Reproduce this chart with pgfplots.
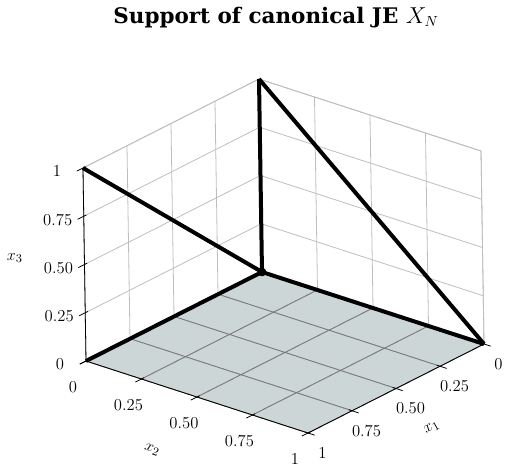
\documentclass[border=0pt]{standalone}
\usepackage[no-math]{fontspec}
\newfontfamily\titlefont{DejaVu Serif}
\usepackage{pgfplots}
\pgfplotsset{compat=1.18}
\definecolor{floorc}{HTML}{CDD6D6}
\definecolor{fgrid}{HTML}{7A7A7A}
\definecolor{wgrid}{HTML}{BEBEBE}
\begin{document}
\begin{tikzpicture}
\useasboundingbox (-196.5pt,-151.5pt) rectangle (182.25pt,204pt);
\begin{axis}[
  at={(0,0)}, anchor=origin,
  x={(-132pt,-66.75pt)}, y={(166.5pt,-54pt)}, z={(-2.25pt,144.75pt)},
  xmin=0,xmax=1,ymin=0,ymax=1,zmin=0,zmax=1,
  xtick={0,0.25,0.5,0.75,1}, xticklabels={0,0.25,0.50,0.75,1},
  ytick={0,0.25,0.5,0.75,1}, yticklabels={0,0.25,0.50,0.75,1},
  ztick={0,0.25,0.5,0.75,1}, zticklabels={0,0.25,0.50,0.75,1},
  tick pos=left,
  grid=major, grid style={wgrid, line width=0.6pt},
  axis line style={wgrid, line width=0.6pt},
  tick style={draw=none},
  major tick length=0pt,
  ticklabel style={font=\fontsize{12.5}{14}\selectfont},
  xticklabel style={anchor=center, xshift=10.9pt, yshift=-15pt},
  yticklabel style={anchor=center, xshift=-9.75pt, yshift=-19.5pt},
  zticklabel style={anchor=center, xshift=-19.5pt, yshift=-2.5pt},
  every axis x label/.style={at={(axis cs:0.691,1.313,0)}, anchor=center, rotate=30, font=\fontsize{12.5}{14}\selectfont},
  every axis y label/.style={at={(axis cs:1.463,0.664,0)}, anchor=center, rotate=-20, font=\fontsize{12.5}{14}\selectfont},
  every axis z label/.style={at={(axis cs:1.392,0,0.714)}, anchor=center, font=\fontsize{12.5}{14}\selectfont},
  xlabel={$x_1$}, ylabel={$x_2$}, zlabel={$x_3$},
  title={\titlefont\bfseries Support of canonical JE $X_N$},
  title style={font=\fontsize{16.1}{19}\selectfont, yshift=29pt, xshift=-5.6pt},
  clip=false,
]
\addplot3[surf, shader=faceted, colormap={fl}{color(0)=(floorc) color(1)=(floorc)},
  point meta=0, point meta min=0, point meta max=1, faceted color=fgrid, line width=0.6pt]
coordinates {
(0,0,0) (0,0.25,0) (0,0.5,0) (0,0.75,0) (0,1,0)

(0.25,0,0) (0.25,0.25,0) (0.25,0.5,0) (0.25,0.75,0) (0.25,1,0)

(0.5,0,0) (0.5,0.25,0) (0.5,0.5,0) (0.5,0.75,0) (0.5,1,0)

(0.75,0,0) (0.75,0.25,0) (0.75,0.5,0) (0.75,0.75,0) (0.75,1,0)

(1,0,0) (1,0.25,0) (1,0.5,0) (1,0.75,0) (1,1,0)
};
% black axis lines
\addplot3[black, line width=0.6pt] coordinates {(1,0,0) (1,0,1)};
\addplot3[black, line width=0.6pt] coordinates {(1,0,0) (1,1,0)};
\addplot3[black, line width=0.6pt] coordinates {(0,1,0) (1,1,0)};
% tick marks
\addplot3[black, line width=0.6pt, empty line=jump] coordinates {
(0.985,0,0) (1.035,0,0)

(0.985,0,0.25) (1.035,0,0.25)

(0.985,0,0.5) (1.035,0,0.5)

(0.985,0,0.75) (1.035,0,0.75)

(0.985,0,1) (1.035,0,1)
};
\addplot3[black, line width=0.6pt, empty line=jump] coordinates {
(0.985,0,0) (1.035,0,0)

(0.985,0.25,0) (1.035,0.25,0)

(0.985,0.5,0) (1.035,0.5,0)

(0.985,0.75,0) (1.035,0.75,0)

(0.985,1,0) (1.035,1,0)
};
\addplot3[black, line width=0.6pt, empty line=jump] coordinates {
(0,0.985,0) (0,1.03,0)

(0.25,0.985,0) (0.25,1.03,0)

(0.5,0.985,0) (0.5,1.03,0)

(0.75,0.985,0) (0.75,1.03,0)

(1,0.985,0) (1,1.03,0)
};
% support
\addplot3[black, line width=3pt] coordinates {(1,0,1) (0,0,0)};
\addplot3[black, line width=3pt] coordinates {(0,0,1) (0,1,0)};
\addplot3[black, line width=3pt] coordinates {(0,0,0) (0,0,1)};
\addplot3[black, line width=3pt] coordinates {(1,0,0) (0,0,0)};
\addplot3[black, line width=3pt] coordinates {(0,0,0) (0,1,0)};
\addplot3[only marks, mark=*, mark size=3pt, black] coordinates {(0,0,0)};
\end{axis}
\end{tikzpicture}
\end{document}
